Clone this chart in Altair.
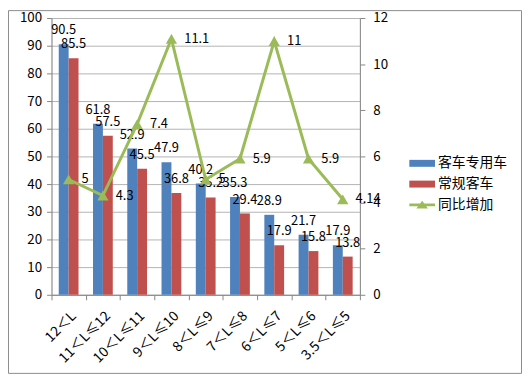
import altair as alt
import pandas as pd

categories = ["12＜L", "11＜L≤12", "10＜L≤11", "9＜L≤10", "8＜L≤9",
              "7＜L≤8", "6＜L≤7", "5＜L≤6", "3.5＜L≤5"]
special = [90.5, 61.8, 52.9, 47.9, 40.2, 35.3, 28.9, 21.7, 17.9]
regular = [85.5, 57.5, 45.5, 36.8, 35.2, 29.4, 17.9, 15.8, 13.8]
growth = [5, 4.3, 7.4, 11.1, 5, 5.9, 11, 5.9, 4.14]
series_names = ["客车专用车", "常规客车", "同比增加"]
colors = ["#4F81BD", "#C0504D", "#9BBB59"]

FONT = "Noto Sans CJK SC"

bar_df = pd.DataFrame({
    "cat": categories * 2,
    "series": [series_names[0]] * len(categories) + [series_names[1]] * len(categories),
    "value": special + regular,
})
bar_df["label"] = [str(v) for v in bar_df["value"]]
line_df = pd.DataFrame({"cat": categories, "series": series_names[2], "value": growth})
line_df["label"] = [str(v) for v in growth]

x_scale = alt.Scale(domain=categories, paddingInner=0, paddingOuter=0)
fill_scale = alt.Scale(domain=series_names[:2], range=colors[:2])
color_scale = alt.Scale(domain=series_names, range=colors)
shape_paths = [
    "M-1,-0.27H1V0.27H-1Z",
    "M-1,-0.27H1V0.27H-1Z",
    "M-1,-0.1H1V0.1H-1Z M-0.45,0.28L0,-0.32L0.45,0.28Z",
]
shape_scale = alt.Scale(domain=series_names, range=shape_paths)
off_scale = alt.Scale(domain=series_names[:2], paddingInner=0, paddingOuter=0.733)

x_axis = alt.Axis(title=None, labelAngle=-45, tickBand="extent", tickSize=5,
                  labelPadding=9, domainColor="#868686", tickColor="#868686",
                  labelFont=FONT, labelFontSize=14, labelColor="#000000")

base_bar = alt.Chart(bar_df).encode(
    x=alt.X("cat:N", scale=x_scale, axis=x_axis),
    xOffset=alt.XOffset("series:N", scale=off_scale),
    y=alt.Y("value:Q", scale=alt.Scale(domain=[0, 100]),
            axis=alt.Axis(title=None, values=list(range(0, 101, 10)), grid=True,
                          tickSize=5, labelPadding=5, domainColor="#868686",
                          tickColor="#868686", gridColor="#b3b3b3",
                          labelFont=FONT, labelFontSize=13.5, labelColor="#000000")),
)
bars = base_bar.mark_bar().encode(
    fill=alt.Fill("series:N", scale=fill_scale, legend=None)
)
bar_text = base_bar.mark_text(baseline="alphabetic", dy=-10, fontSize=13,
                              font=FONT, color="#000000").encode(text="label:N")

base_line = alt.Chart(line_df).encode(
    x=alt.X("cat:N", scale=x_scale, axis=x_axis),
    y=alt.Y("value:Q", scale=alt.Scale(domain=[0, 12]),
            axis=alt.Axis(title=None, orient="right", values=list(range(0, 13, 2)),
                          grid=False, tickSize=5, labelPadding=8,
                          domainColor="#868686", tickColor="#868686",
                          labelFont=FONT, labelFontSize=13.5, labelColor="#000000")),
)
line = base_line.mark_line(color=colors[2], strokeWidth=3)
pts = base_line.mark_point(shape="triangle-up", filled=True, size=130,
                           color=colors[2], opacity=1)
line_text = base_line.mark_text(align="left", baseline="middle", dx=13, fontSize=13,
                                font=FONT, color="#000000").encode(text="label:N")

legend_cfg = alt.Legend(title=None, orient="none", legendX=362, legendY=134,
                        symbolSize=676, symbolStrokeWidth=0, rowPadding=1,
                        labelOffset=3, padding=0, labelFont=FONT, labelFontSize=14,
                        labelColor="#000000", symbolOpacity=1)
legend_layer = alt.Chart(line_df).transform_filter("false").mark_point(
    filled=True, size=676, opacity=1
).encode(
    color=alt.Color("series:N", scale=color_scale, legend=legend_cfg),
    shape=alt.Shape("series:N", scale=shape_scale, legend=legend_cfg),
)

border = alt.Chart(pd.DataFrame({"a": [0]})).mark_rect(
    fill=None, stroke="#8c8c8c", strokeWidth=1
).encode(
    x=alt.value(-43.5), x2=alt.value(475.5), y=alt.value(-7.5), y2=alt.value(359.5)
)

chart = alt.layer(
    alt.layer(bars, bar_text),
    alt.layer(line, pts, line_text),
    legend_layer,
    border,
).resolve_scale(y="independent").properties(
    width=312, height=280,
    autosize=alt.AutoSizeParams(type="none"),
    padding={"left": 44, "top": 8, "right": 164, "bottom": 80},
).configure_view(stroke=None).configure(background="white")

chart.save("out.html", embed_options={"renderer": "svg", "actions": False})
